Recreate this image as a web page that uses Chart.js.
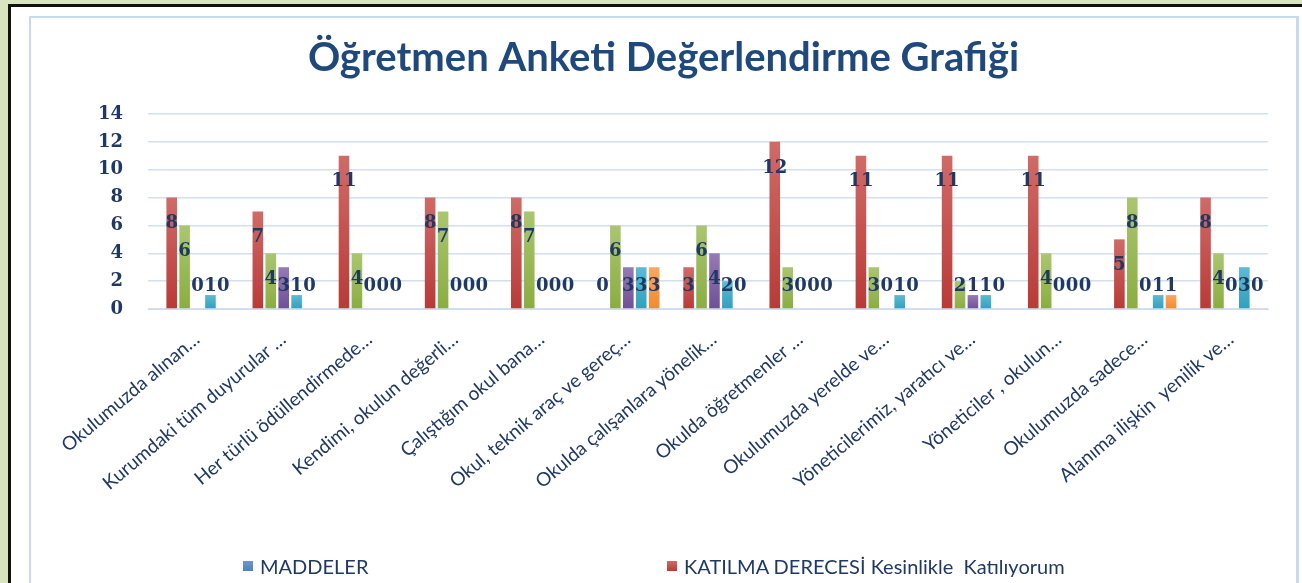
<!DOCTYPE html>
<html>
<head>
<meta charset="utf-8">
<script src="https://cdn.jsdelivr.net/npm/chart.js@4"></script>
<style>
html, body { margin: 0; padding: 0; }
body { width: 1302px; height: 583px; overflow: hidden; background: #d7e4bd; position: relative; font-family: Lato, sans-serif; }
#frame { position: absolute; left: 8px; top: 4px; width: 1330px; height: 640px; border: 3px solid #111; background: #fff; box-sizing: border-box; }
#panel { position: absolute; left: 29px; top: 16px; width: 1270px; height: 640px; border: 2px solid #cbd9ee; border-right-width: 3px; box-sizing: border-box; background: #fff; }
#wrap { position: absolute; left: 31px; top: 18px; width: 1265px; height: 540px; }
#legend { position: absolute; left: 243px; top: 554px; display: grid; grid-template-columns: 424px 424px; row-gap: 10px; }
.item { display: flex; align-items: center; font-size: 20px; color: #1f3864; height: 24px; white-space: pre; }
.box { width: 10px; height: 10px; margin-right: 7px; }
</style>
</head>
<body>
<div id="frame"></div>
<div id="panel"></div>
<div id="wrap"><canvas id="chart"></canvas></div>
<div id="legend"></div>
<script>
const categories = [
    "Okulumuzda alınan…", "Kurumdaki tüm duyurular …", "Her türlü ödüllendirmede…",
    "Kendimi, okulun değerli…", "Çalıştığım okul bana…", "Okul, teknik araç ve gereç…",
    "Okulda çalışanlara yönelik…", "Okulda öğretmenler …", "Okulumuzda yerelde ve…",
    "Yöneticilerimiz, yaratıcı ve…", "Yöneticiler , okulun…", "Okulumuzda sadece…",
    "Alanıma ilişkin  yenilik ve…"
];
const seriesNames = ["MADDELER", "KATILMA DERECESİ Kesinlikle  Katılıyorum", "Katılıyorum", "Kararsızım", "Katılmıyorum", "Kesinlikle Katılmıyorum"];

// MADDELER column has no numbers, it only keeps its slot
const maddeler = [];
const kesinlikleKatiliyorum = [8, 7, 11, 8, 8, 0, 3, 12, 11, 11, 11, 5, 8];
const katiliyorum = [6, 4, 4, 7, 7, 6, 6, 3, 3, 2, 4, 8, 4];
const kararsizim = [0, 3, 0, 0, 0, 3, 4, 0, 0, 1, 0, 0, 0];
const katilmiyorum = [1, 1, 0, 0, 0, 3, 2, 0, 1, 1, 0, 1, 3];
const kesinlikleKatilmiyorum = [0, 0, 0, 0, 0, 3, 0, 0, 0, 0, 0, 1, 0];

const yMin = 0, yMax = 14, yStep = 2;

const colors = ["#4f81bd", "#b93a37", "#8aad42", "#6f4f96", "#30a0bd", "#f28a2c"];
const lightColors = ["#6d97cc", "#cf6b68", "#aac670", "#957bb6", "#5cbbd3", "#f9a862"];
const allSeries = [maddeler, kesinlikleKatiliyorum, katiliyorum, kararsizim, katilmiyorum, kesinlikleKatilmiyorum];

function barFill(i) {
    return (c) => {
        const chart = c.chart;
        if (!chart.chartArea || c.type !== 'data') return colors[i];
        const y = chart.scales.y;
        const top = y.getPixelForValue(c.raw), bottom = y.getPixelForValue(0);
        if (!(bottom > top)) return colors[i];
        const g = chart.ctx.createLinearGradient(0, top, 0, bottom);
        g.addColorStop(0, lightColors[i]);
        g.addColorStop(1, colors[i]);
        return g;
    };
}

// numbers written on the bars, a bit under the top
const valueLabels = {
    id: 'valueLabels',
    afterDatasetsDraw(chart) {
        const ctx = chart.ctx;
        const zero = chart.scales.y.getPixelForValue(0);
        ctx.save();
        ctx.font = 'bold 18px "DejaVu Serif"';
        ctx.fillStyle = '#1f3864';
        ctx.textAlign = 'center';
        ctx.textBaseline = 'middle';
        chart.data.datasets.forEach((ds, i) => {
            if (i === 0) return;
            chart.getDatasetMeta(i).data.forEach((bar, j) => {
                const y = Math.min(bar.y + 26, zero - 23);
                ctx.fillText(ds.data[j], bar.x, y);
            });
        });
        ctx.restore();
    }
};

const datasets = allSeries.map((data, i) => ({
    label: seriesNames[i],
    data: data,
    backgroundColor: barFill(i),
    borderWidth: 0,
    categoryPercentage: 0.9,
    barPercentage: 0.82
}));

const chart = new Chart(document.getElementById("chart"), {
    type: 'bar',
    data: { labels: categories, datasets: datasets },
    plugins: [valueLabels],
    options: {
        responsive: true,
        maintainAspectRatio: false,
        animation: false,
        layout: { padding: 0 },
        scales: {
            x: {
                grid: { display: false, drawTicks: false },
                border: { color: '#d0dcee', width: 1 },
                ticks: {
                    autoSkip: false,
                    maxRotation: 40, minRotation: 40,
                    padding: 19,
                    labelOffset: 6,
                    color: '#1f3864',
                    font: { family: 'Lato', size: 19 }
                },
                afterFit: (scale) => {
                    scale.height = 249;
                    scale.paddingLeft = 0;
                    scale.paddingRight = 28;
                }
            },
            y: {
                min: yMin, max: yMax,
                grid: { color: '#d3def0', lineWidth: 1.5, drawTicks: false },
                border: { display: false },
                ticks: {
                    stepSize: yStep,
                    padding: 25,
                    color: '#1f3864',
                    font: { family: 'DejaVu Serif', size: 18, weight: 'bold' }
                },
                afterFit: (scale) => { scale.width = 117; }
            }
        },
        plugins: {
            title: {
                display: true,
                text: 'Öğretmen Anketi Değerlendirme Grafiği',
                color: '#1f497d',
                font: { family: 'Lato', size: 40, weight: 'bold' },
                padding: { top: 16, bottom: 32 }
            },
            legend: { display: false },
            tooltip: { enabled: false }
        }
    }
});

// legend in two columns like the sheet; the lower rows fall below the picture
const legendBox = document.getElementById("legend");
seriesNames.forEach((name, i) => {
    const item = document.createElement("div");
    item.className = "item";
    const sw = document.createElement("span");
    sw.className = "box";
    sw.style.background = `linear-gradient(${lightColors[i]}, ${colors[i]})`;
    const txt = document.createElement("span");
    txt.textContent = name;
    item.appendChild(sw);
    item.appendChild(txt);
    legendBox.appendChild(item);
});
</script>
</body>
</html>
